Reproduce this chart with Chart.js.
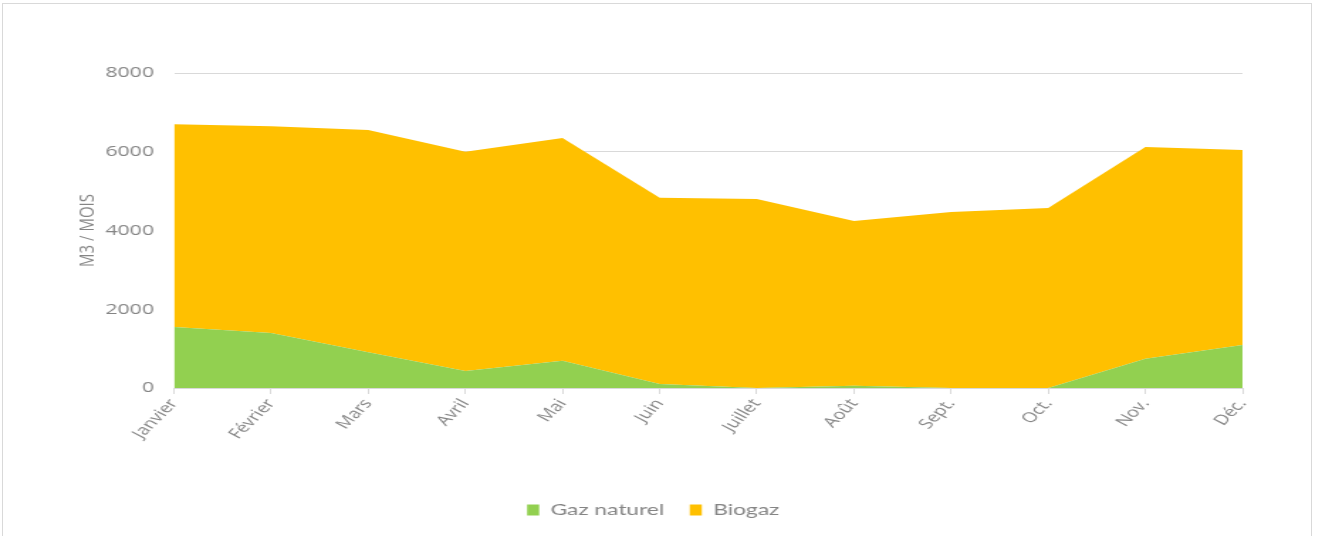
<!DOCTYPE html>
<html>
<head>
<meta charset="utf-8">
<script src="https://cdn.jsdelivr.net/npm/chart.js@4/dist/chart.umd.min.js"></script>
<style>
  html, body { margin: 0; padding: 0; background: #fff; overflow: hidden; }
  #frame { position: absolute; left: 2px; top: 3px; width: 1308px; height: 560px; border: 1px solid #d9d9d9; }
  /* chart is drawn narrow and widened, giving the broad lettering */
  #wrap { position: absolute; left: 0; top: 0; width: 927px; height: 536px; transform: scaleX(1.42); transform-origin: 0 0; }
</style>
</head>
<body>
<div id="frame"></div>
<div id="wrap"><canvas id="gasChart" width="927" height="536"></canvas></div>
<script>
// Monthly consumption, m3
const months = ["Janvier", "Février", "Mars", "Avril", "Mai", "Juin", "Juillet", "Août", "Sept.", "Oct.", "Nov.", "Déc."];
const gazNaturel = [1550, 1400, 910, 430, 690, 100, 0, 60, 0, 0, 740, 1090];
const biogaz = [5150, 5250, 5640, 5570, 5660, 4730, 4800, 4180, 4470, 4570, 5380, 4955];
const yTicks = [0, 2000, 4000, 6000, 8000];

const grey = "#858585";

const ctx = document.getElementById("gasChart").getContext("2d");
new Chart(ctx, {
    type: "line",
    data: {
        labels: months,
        datasets: [
            {
                label: "Gaz naturel",
                data: gazNaturel,
                backgroundColor: "#92D050",
                borderWidth: 0,
                pointRadius: 0,
                fill: "origin"
            },
            {
                label: "Biogaz",
                data: biogaz,
                backgroundColor: "#FFC000",
                borderWidth: 0,
                pointRadius: 0,
                fill: "-1"
            }
        ]
    },
    options: {
        responsive: false,
        animation: false,
        layout: { padding: { left: 45, right: 52, top: 73, bottom: 8 } },
        plugins: {
            tooltip: { enabled: false },
            legend: {
                position: "bottom",
                labels: {
                    color: grey,
                    font: { family: "Lato", size: 16 },
                    boxWidth: 8.5,
                    boxHeight: 11,
                    padding: 18
                }
            }
        },
        scales: {
            x: {
                offset: false,
                grid: { display: true, drawOnChartArea: false, color: "#d9d9d9", tickLength: 6 },
                border: { color: "#d9d9d9" },
                ticks: {
                    color: grey,
                    font: { family: "Open Sans", size: 14 },
                    minRotation: 54,
                    maxRotation: 54,
                    padding: 2
                },
                afterFit: axis => { axis.height = 96; }
            },
            y: {
                stacked: true,
                min: 0,
                max: 8000,
                afterBuildTicks: axis => { axis.ticks = yTicks.map(v => ({ value: v })); },
                grid: { color: "#d9d9d9", drawTicks: false },
                border: { display: false },
                ticks: {
                    color: grey,
                    font: { family: "Open Sans", size: 15 },
                    padding: 14,
                    callback: v => String(v)
                },
                title: {
                    display: true,
                    text: "M3 / MOIS",
                    color: grey,
                    font: { family: "Open Sans", size: 15 },
                    padding: { top: 8, bottom: 0 }
                },
                afterFit: axis => { axis.width = 77.5; }
            }
        }
    }
});
</script>
</body>
</html>
